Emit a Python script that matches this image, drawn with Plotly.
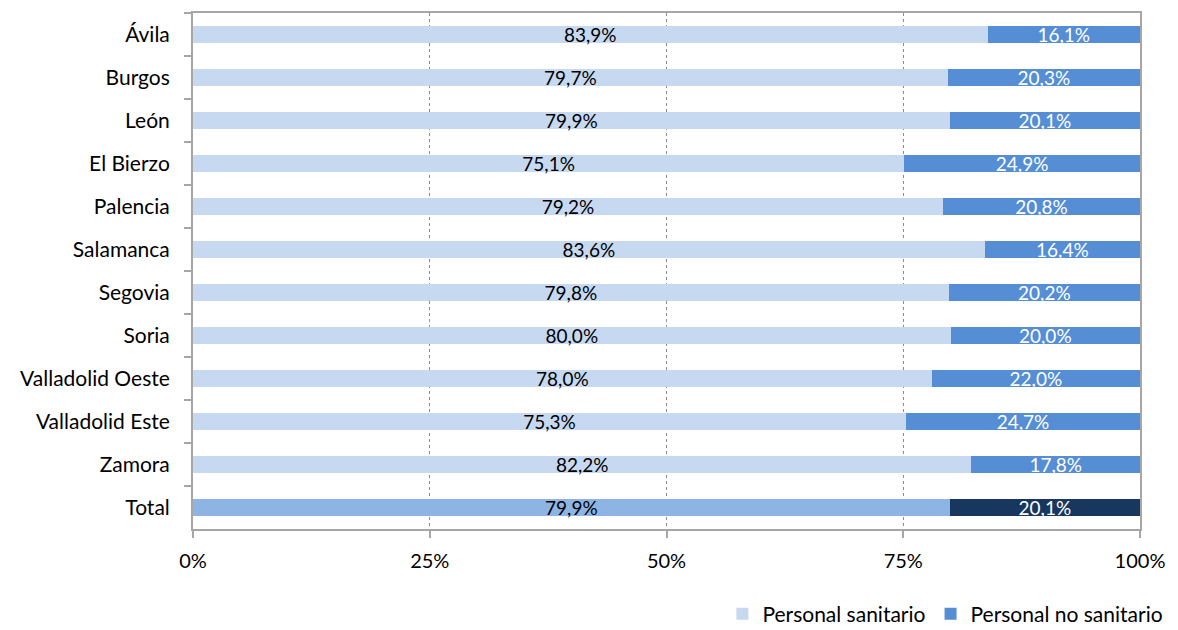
import plotly.graph_objects as go

categories = ["Ávila", "Burgos", "León", "El Bierzo", "Palencia", "Salamanca", "Segovia",
              "Soria", "Valladolid Oeste", "Valladolid Este", "Zamora", "Total"]
sanitario = [83.9, 79.7, 79.9, 75.1, 79.2, 83.6, 79.8, 80.0, 78.0, 75.3, 82.2, 79.9]
no_sanitario = [16.1, 20.3, 20.1, 24.9, 20.8, 16.4, 20.2, 20.0, 22.0, 24.7, 17.8, 20.1]
x_ticks = [0, 25, 50, 75, 100]
x_tick_labels = ["0%", "25%", "50%", "75%", "100%"]

col_san = ["#C6D9F1"] * (len(categories) - 1) + ["#8DB4E2"]
col_nos = ["#558ED5"] * (len(categories) - 1) + ["#17375E"]

FONT = "Lato, Carlito, Calibri, sans-serif"

fig = go.Figure()
fig.add_trace(go.Bar(
    y=categories, x=sanitario, orientation="h", name="Personal sanitario",
    marker=dict(color=col_san, line=dict(width=0)),
    texttemplate="%{x:.1f}%", textposition="inside", insidetextanchor="middle",
    textangle=0, constraintext="none",
    textfont=dict(color="#000000", size=19, family=FONT),
))
fig.add_trace(go.Bar(
    y=categories, x=no_sanitario, orientation="h", name="Personal no sanitario",
    marker=dict(color=col_nos, line=dict(width=0)),
    texttemplate="%{x:.1f}%", textposition="inside", insidetextanchor="middle",
    textangle=0, constraintext="none",
    textfont=dict(color="#FFFFFF", size=19, family=FONT),
))

# page body has an 8px margin; compensate so the plot area lands at x 193..1140, y 11..531
fig.update_layout(
    barmode="stack",
    bargap=0.6,
    width=1178, height=630,
    margin=dict(l=185, r=46, t=3, b=107),
    plot_bgcolor="white", paper_bgcolor="white",
    separators=", ",
    font=dict(family=FONT, size=21, color="#000000"),
    showlegend=True,
    legend=dict(orientation="h", x=1.03, xanchor="right", y=-0.165, yanchor="middle",
                font=dict(size=21), traceorder="normal", itemwidth=30,
                bgcolor="rgba(0,0,0,0)"),
    xaxis=dict(
        range=[0, 100], tickmode="array", tickvals=x_ticks, ticktext=x_tick_labels,
        showgrid=True, gridcolor="#8C8C8C", griddash="dot", gridwidth=1,
        showline=True, linecolor="#A6A6A6", linewidth=2, mirror=True,
        ticks="outside", ticklen=7, tickcolor="#A6A6A6", tickwidth=2,
        zeroline=False, tickfont=dict(size=20), ticklabelstandoff=6,
    ),
    yaxis=dict(
        categoryorder="array", categoryarray=categories, autorange="reversed",
        showline=True, linecolor="#A6A6A6", linewidth=2, mirror=True,
        ticks="outside", ticklen=7, tickcolor="#A6A6A6", tickwidth=2,
        tickson="boundaries", showgrid=False, zeroline=False,
        tickfont=dict(size=21), ticklabelstandoff=17,
    ),
)

fig.write_html("out.html")
